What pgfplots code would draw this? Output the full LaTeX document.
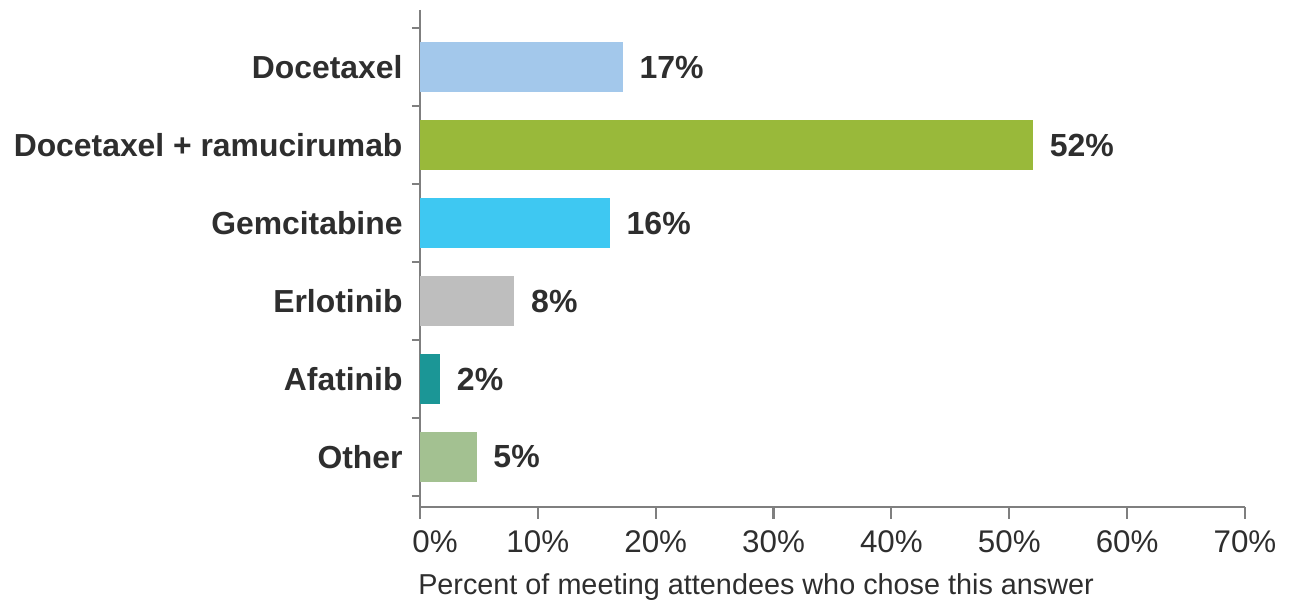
\documentclass[border=0pt]{standalone}
\usepackage{fontspec}
\setmainfont{Liberation Sans}
\usepackage{pgfplots}
\pgfplotsset{compat=1.18}
\definecolor{cA}{HTML}{A3C8EB}
\definecolor{cB}{HTML}{99B93A}
\definecolor{cC}{HTML}{3EC8F2}
\definecolor{cD}{HTML}{BEBEBE}
\definecolor{cE}{HTML}{1B9696}
\definecolor{cF}{HTML}{A3C191}
\definecolor{txt}{HTML}{2E2E2E}
\definecolor{axc}{HTML}{7F7F7F}
\begin{document}
\begin{tikzpicture}
\begin{axis}[
  at={(0,0)}, anchor=south west,
  scale only axis, width=618.75pt, height=372.75pt,
  xmin=0, xmax=70, ymin=-0.731, ymax=5.641, y dir=reverse,
  xbar, bar width=37.5pt, bar shift=0pt,
  axis x line=bottom, axis y line=left,
  axis line style={-, draw=axc, line width=2pt},
  tick align=outside, major tick length=9pt,
  tick style={draw=axc, line width=1.6pt},
  xtick={0,10,...,70},
  xticklabels={\hspace*{22.5pt}0\%,10\%,20\%,30\%,40\%,50\%,60\%,70\%},
  xticklabel style={font=\fontsize{23.5pt}{26pt}\selectfont, text=txt, inner sep=0pt, anchor=base, yshift=-25pt},
  ytick={0,...,5},
  yticklabels={Docetaxel,Docetaxel + ramucirumab,Gemcitabine,Erlotinib,Afatinib,Other},
  ytick style={draw=none},
  yticklabel style={font=\bfseries\fontsize{23.9pt}{26pt}\selectfont, text=txt, inner sep=0pt, anchor=east, xshift=-3.9pt},
  extra y ticks={-0.5,0.5,1.5,2.5,3.5,4.5,5.5},
  extra y tick labels={},
  extra y tick style={major tick length=6pt, ytick style={draw=axc, line width=1.6pt}},
  xlabel={Percent of meeting attendees who chose this answer},
  xlabel style={at={(axis description cs:0,0)}, anchor=base west, inner sep=0pt, yshift=-66pt, xshift=-1.5pt, font=\fontsize{21.6pt}{24pt}\selectfont, text=txt},
  point meta=explicit symbolic,
  nodes near coords,
  nodes near coords style={font=\bfseries\fontsize{24pt}{26pt}\selectfont, text=txt, anchor=west, inner sep=0pt, xshift=12.5pt},
  clip=false,
]
\addplot[fill=cA, draw=none] coordinates {(17.2,0) [17\%]};
\addplot[fill=cB, draw=none] coordinates {(52,1) [52\%]};
\addplot[fill=cC, draw=none] coordinates {(16.1,2) [16\%]};
\addplot[fill=cD, draw=none] coordinates {(8,3) [8\%]};
\addplot[fill=cE, draw=none] coordinates {(1.7,4) [2\%]};
\addplot[fill=cF, draw=none] coordinates {(4.8,5) [5\%]};
\end{axis}
\pgfresetboundingbox
\path[use as bounding box] (-315pt,-73.5pt) rectangle (657.75pt,380.25pt);
\end{tikzpicture}
\end{document}
